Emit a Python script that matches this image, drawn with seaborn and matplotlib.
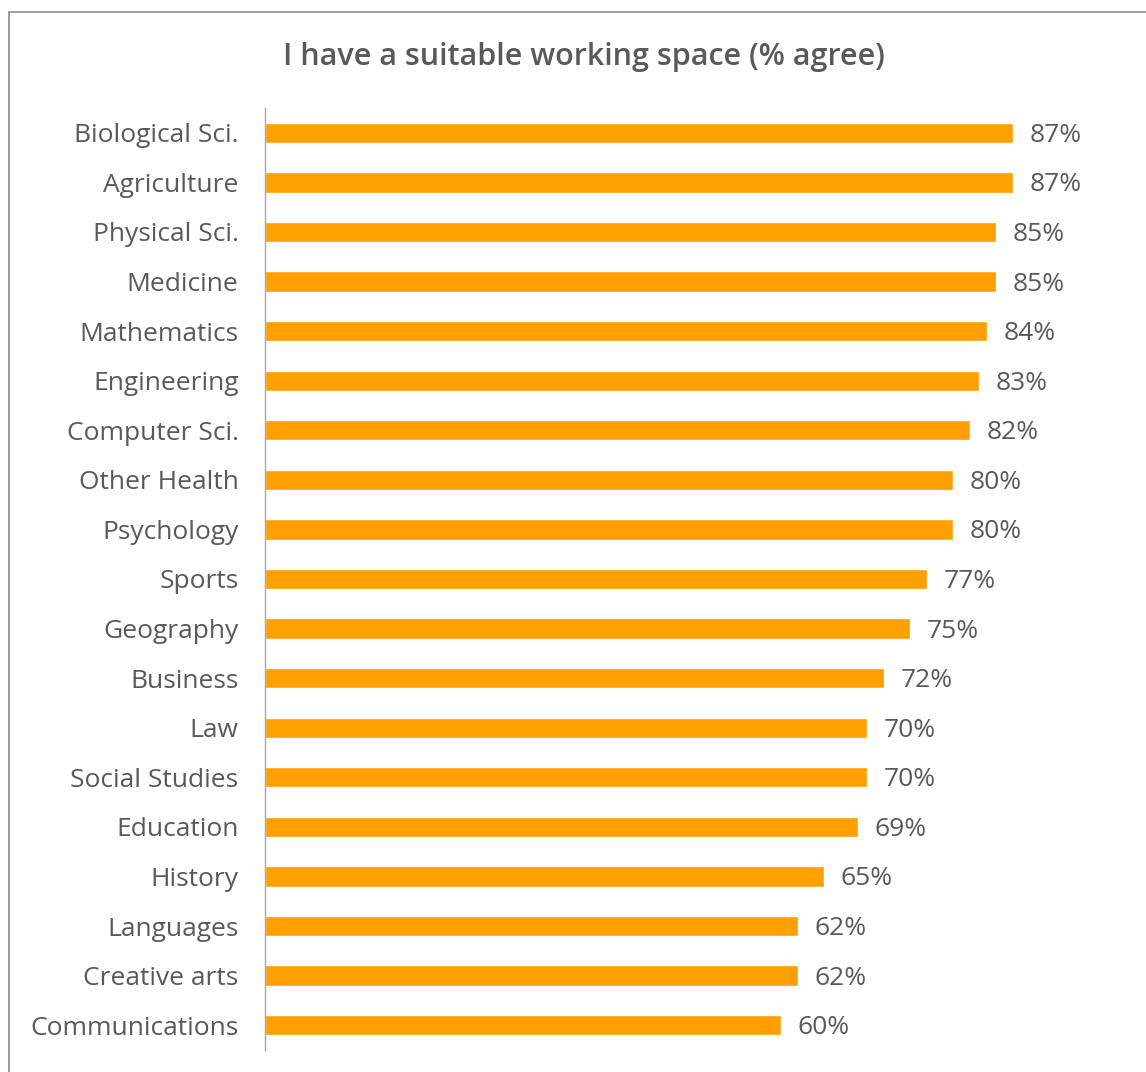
import matplotlib
matplotlib.use("Agg")
import matplotlib.pyplot as plt
import seaborn as sns
import pandas as pd
from matplotlib.patches import Rectangle

subjects = ["Biological Sci.", "Agriculture", "Physical Sci.", "Medicine", "Mathematics",
            "Engineering", "Computer Sci.", "Other Health", "Psychology", "Sports",
            "Geography", "Business", "Law", "Social Studies", "Education", "History",
            "Languages", "Creative arts", "Communications"]
agree_pct = [87, 87, 85, 85, 84, 83, 82, 80, 80, 77, 75, 72, 70, 70, 69, 65, 62, 62, 60]

title = "I have a suitable working space (% agree)"
bar_color = "#FFA000"
text_color = "#595959"

df = pd.DataFrame({"subject": subjects, "pct": agree_pct})

sns.set_theme(style="white")
plt.rcParams["font.family"] = ["Open Sans", "DejaVu Sans"]

W, H = 1146, 1072
fig = plt.figure(figsize=(W / 100, H / 100), dpi=100)
ax = fig.add_axes([265 / W, 1 - 1050 / H, 860 / W, (1050 - 108) / H])

sns.barplot(data=df, x="pct", y="subject", orient="h", color=bar_color,
            width=0.41, saturation=1, ax=ax)

ax.set_xlim(0, 100)
ax.set_ylim(len(subjects) - 0.5, -0.5)
ax.set_xlabel("")
ax.set_ylabel("")
ax.set_xticks([])
ax.tick_params(axis="y", length=0, pad=19, labelsize=19, labelcolor=text_color)
for s in ["top", "right", "bottom"]:
    ax.spines[s].set_visible(False)
ax.spines["left"].set_color("#A6A6A6")
ax.spines["left"].set_linewidth(1.0)

for i, v in enumerate(agree_pct):
    ax.text(v + 1.9, i + 0.05, f"{v}%", va="center", ha="left",
            fontsize=19, color=text_color)

fig.text(584 / W, 1 - 57 / H, title, ha="center", va="center",
         fontsize=22, fontweight="semibold", color=text_color)

# outer chart frame
fig.patches.append(Rectangle((9 / W, -0.1), 1.2, 1 - 12 / H + 0.1,
                             transform=fig.transFigure, fill=False,
                             edgecolor="#8C8C8C", linewidth=1.2))

fig.savefig("out.png", dpi=100)
